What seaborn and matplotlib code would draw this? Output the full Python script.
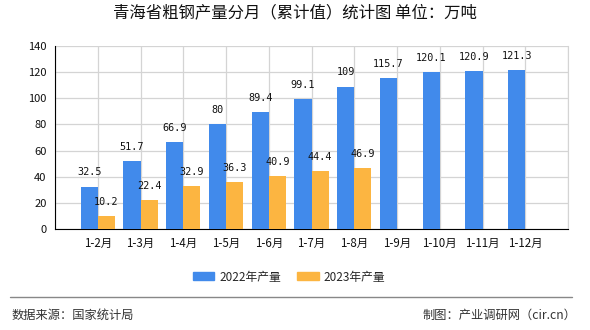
import matplotlib
matplotlib.use("Agg")
import matplotlib.pyplot as plt
import seaborn as sns
import pandas as pd
import numpy as np
from matplotlib.lines import Line2D

categories = ["1-2月", "1-3月", "1-4月", "1-5月", "1-6月", "1-7月", "1-8月",
              "1-9月", "1-10月", "1-11月", "1-12月"]
values_2022 = [32.5, 51.7, 66.9, 80, 89.4, 99.1, 109, 115.7, 120.1, 120.9, 121.3]
values_2023 = [10.2, 22.4, 32.9, 36.3, 40.9, 44.4, 46.9]
series_names = ["2022年产量", "2023年产量"]
y_ticks = [0, 20, 40, 60, 80, 100, 120, 140]
title = "青海省粗钢产量分月（累计值）统计图 单位：万吨"
source = "数据来源：国家统计局"
credit = "制图：产业调研网（cir.cn）"

sns.set_style("white")
plt.rcParams['font.family'] = ['Noto Sans CJK SC', 'DejaVu Sans']

rows = []
for c, v in zip(categories, values_2022):
    rows.append({"cat": c, "val": v, "series": series_names[0]})
for c, v in zip(categories, values_2023):
    rows.append({"cat": c, "val": v, "series": series_names[1]})
df = pd.DataFrame(rows)

colors = {series_names[0]: "#418AEB", series_names[1]: "#FCB541"}

fig = plt.figure(figsize=(5.9, 3.3), dpi=100)
ax = fig.add_axes([55/590, 1-229/330, (568-55)/590, (229-46)/330])

sns.barplot(data=df, x="cat", y="val", hue="series", order=categories,
            hue_order=series_names, palette=colors, width=0.8, ax=ax,
            saturation=1, legend=False, zorder=3, edgecolor="none", linewidth=0)

for cont in ax.containers:
    ax.bar_label(cont, fmt="%g", padding=6.5, fontsize=7.3,
                 family=["DejaVu Sans Mono"], color="#111111")

ax.set_xlim(-1, 11)
ax.set_ylim(0, 140)
ax.set_xticks(range(-1, 12))
ax.set_xticklabels([""] + categories + [""], fontsize=8.3)
ax.set_yticks(y_ticks)
ax.set_yticklabels([str(t) for t in y_ticks], fontsize=8.0)
ax.set_xlabel("")
ax.set_ylabel("")
ax.grid(True, color="#D4D4D4", linewidth=0.9, zorder=0)
ax.set_axisbelow(True)
ax.spines["top"].set_visible(False)
ax.spines["right"].set_color("#D4D4D4")
ax.spines["left"].set_color("black")
ax.spines["bottom"].set_color("black")
ax.tick_params(axis="both", length=4, width=0.9, color="black", direction="out",
               pad=2, labelcolor="#111111")

fig.text(0.5, 1-13/330, title, ha="center", va="center", fontsize=11.8, color="#111111")

handles = [plt.Rectangle((0, 0), 1, 1, color=colors[n]) for n in series_names]
fig.legend(handles, series_names, loc="center", bbox_to_anchor=(0.49, 1-277/330),
           ncol=2, frameon=False, fontsize=8.5, handlelength=1.8, handleheight=0.65,
           handletextpad=0.4, columnspacing=1.4)

fig.add_artist(Line2D([10/590, 572/590], [1-297/330, 1-297/330], color="#888888",
                      linewidth=1.0, transform=fig.transFigure))
fig.text(12/590, 1-315/330, source, ha="left", va="center", fontsize=8.8, color="#333333")
fig.text(576/590, 1-315/330, credit, ha="right", va="center", fontsize=8.8, color="#333333")

fig.savefig("out.png", dpi=100)
